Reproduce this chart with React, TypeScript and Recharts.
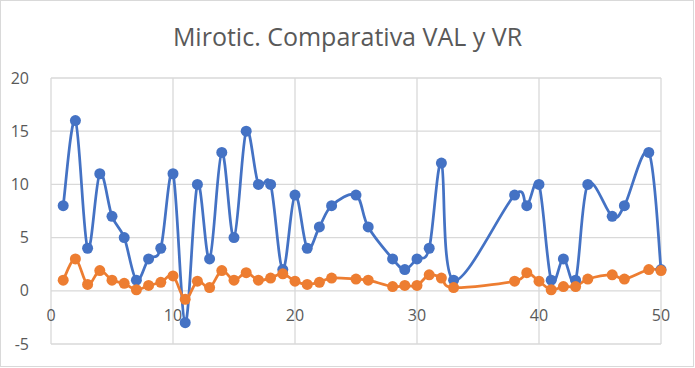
import React from 'react';
import { LineChart, Line, XAxis, YAxis, CartesianGrid } from 'recharts';

// x positions shared by both series
const xValues = [1, 2, 3, 4, 5, 6, 7, 8, 9, 10, 11, 12, 13, 14, 15, 16, 17, 18, 19, 20, 21, 22, 23, 25, 26, 28, 29, 30, 31, 32, 33, 38, 39, 40, 41, 42, 43, 44, 46, 47, 49, 50];
const valValues = [8, 16, 4, 11, 7, 5, 1, 3, 4, 11, -3, 10, 3, 13, 5, 15, 10, 10, 2, 9, 4, 6, 8, 9, 6, 3, 2, 3, 4, 12, 1, 9, 8, 10, 1, 3, 1, 10, 7, 8, 13, 2];
const vrValues = [1, 3, 0.6, 1.9, 1, 0.7, 0.1, 0.5, 0.8, 1.4, -0.8, 0.9, 0.3, 1.9, 1, 1.7, 1, 1.2, 1.6, 0.9, 0.6, 0.8, 1.2, 1.1, 1, 0.4, 0.5, 0.5, 1.5, 1.2, 0.3, 0.9, 1.7, 0.9, 0.1, 0.4, 0.4, 1.1, 1.5, 1.1, 2, 1.9];
const xTicks = [0, 10, 20, 30, 40, 50];
const yTicks = [-5, 0, 5, 10, 15, 20];

const data = xValues.map((x, i) => ({ x, val: valValues[i], vr: vrValues[i] }));

const BLUE = '#4472C4';
const ORANGE = '#ED7D31';
const TEXT = '#595959';
const GRID = '#d9d9d9';

// Excel-like smoothed line (uniform Catmull-Rom as cubic beziers)
const excelSmooth = (context: any) => {
  let pts: number[][] = [];
  return {
    areaStart() {},
    areaEnd() {},
    lineStart() {
      pts = [];
    },
    point(x: number, y: number) {
      pts.push([+x, +y]);
    },
    lineEnd() {
      const n = pts.length;
      if (!n) return;
      context.moveTo(pts[0][0], pts[0][1]);
      for (let i = 0; i < n - 1; i++) {
        const p0 = pts[Math.max(i - 1, 0)];
        const p1 = pts[i];
        const p2 = pts[i + 1];
        const p3 = pts[Math.min(i + 2, n - 1)];
        context.bezierCurveTo(
          p1[0] + (p2[0] - p0[0]) / 6,
          p1[1] + (p2[1] - p0[1]) / 6,
          p2[0] - (p3[0] - p1[0]) / 6,
          p2[1] - (p3[1] - p1[1]) / 6,
          p2[0],
          p2[1]
        );
      }
    },
  };
};

// x labels sit next to the zero line, like Excel's crossing axis
const XTick = ({ x, y, payload }: any) => (
  <text x={x} y={y - 29} textAnchor="middle" dominantBaseline="central" fill={TEXT} fontSize={16} fontFamily="Open Sans">
    {payload.value}
  </text>
);

export default function App() {
  return (
    <div style={{ position: 'absolute', left: 0, top: 0, width: 695, height: 368 }}>
      <div
        style={{
          position: 'absolute',
          left: 0,
          top: 0,
          width: 694,
          height: 367,
          boxSizing: 'border-box',
          border: `1px solid ${GRID}`,
          background: '#fff',
        }}
      />
      <div
        style={{
          position: 'absolute',
          left: 0,
          top: 20,
          width: 695,
          textAlign: 'center',
          fontFamily: 'Open Sans',
          fontSize: 25,
          color: TEXT,
          lineHeight: '32px',
        }}
      >
        Mirotic. Comparativa VAL y VR
      </div>
      <div style={{ position: 'absolute', left: 0, top: 0 }}>
        <LineChart width={695} height={368} data={data} margin={{ top: 78, right: 34, bottom: 0, left: 0 }}>
          <CartesianGrid stroke={GRID} strokeWidth={1.3} horizontalValues={yTicks} verticalValues={xTicks} />
          <XAxis
            type="number"
            dataKey="x"
            domain={[0, 50]}
            ticks={xTicks}
            axisLine={false}
            tickLine={false}
            tickSize={0}
            tickMargin={0}
            height={24}
            tick={<XTick />}
            interval={0}
          />
          <YAxis
            type="number"
            domain={[-5, 20]}
            ticks={yTicks}
            axisLine={false}
            tickLine={false}
            width={51}
            tickMargin={16}
            tick={{ fill: TEXT, fontSize: 16, fontFamily: 'Open Sans' }}
            interval={0}
          />
          <Line
            dataKey="val"
            name="VAL"
            type={excelSmooth as any}
            stroke={BLUE}
            strokeWidth={2.75}
            dot={{ r: 5.5, fill: BLUE, stroke: BLUE, strokeWidth: 0 }}
            isAnimationActive={false}
          />
          <Line
            dataKey="vr"
            name="VR"
            type={excelSmooth as any}
            stroke={ORANGE}
            strokeWidth={2.75}
            dot={{ r: 5.5, fill: ORANGE, stroke: ORANGE, strokeWidth: 0 }}
            isAnimationActive={false}
          />
        </LineChart>
      </div>
    </div>
  );
}
